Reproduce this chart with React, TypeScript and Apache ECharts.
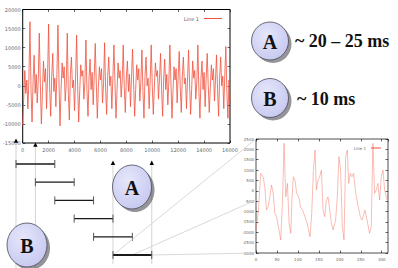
import React, { useEffect, useRef } from "react";
import * as echarts from "echarts";

// ---------- data ----------
const MAIN_SAMPLE_STEP = 80; // x spacing of samples (axis units)
const mainValues = [
  -10500, -3000, 4000, -2000, 1500, -6000, 2000, 16800,
  -1000, -9500, 1000, 8000, -2000, 3000, -4500, 1500, 13800,
  500, -10000, -2000, 6500, 1000, 4500, -6000, 2500, 16200,
  -500, -8000, 2500, 8500, -1500, 2000, -5500, 3000, 15900,
  1000, -10500, -1000, 6000, 2000, 5000, -4000, 500, 13800,
  -2000, -9000, 3000, 7500, -500, 1500, -6500, 2000, 13300,
  0, -9500, -1500, 5500, 2500, 4000, -3500, 1000, 12000,
  -1500, -8000, 2000, 7000, -1000, 3500, -5000, 2500, 11100,
  500, -8500, -500, 5000, 1500, 4500, -4500, 500, 11300,
  -1000, -7500, 2500, 7500, 0, 2500, -6000, 2000, 10700,
  1000, -8500, -1500, 6000, 2000, 4000, -3000, 1500, 10700,
  -500, -7000, 2000, 6500, -1500, 3000, -5500, 2500, 9600,
  500, -8000, -1000, 5500, 1500, 4500, -4000, 1000, 9400,
  -1500, -8500, 2500, 7500, 0, 2000, -6000, 1500, 10700,
  0, -7500, -500, 6000, 2500, 4000, -3500, 2000, 8500,
  -1000, -8000, 2000, 7000, -1000, 3000, -5000, 1000, 10700,
  1000, -8500, -1500, 5000, 1500, 4500, -4500, 2500, 9000,
  -500, -7000, 2500, 7500, 500, 2000, -6000, 1500, 9400,
  500, -7500, -1000, 6500, 2000, 4000, -3500, 1000, 10700,
  -1500, -8500, 2000, 6500, -1000, 3500, -5500, 2000, 8500,
  0, -7000, -500, 5500, 1500, 4500, -4000, 1500, 8100,
  -1000, -8000, 2000, 7500, 0, 2500, -6000, 3000, 10300,
  -2000, -8500, 1500, -4500,
];

const smallX = [
  0, 6, 11, 17, 21, 25, 29, 33, 37, 41, 45, 49, 55, 59, 63, 67, 71, 75, 79, 83,
  86, 89, 93, 97, 102, 106, 111, 117, 122, 129, 133, 137, 141, 144, 148, 152, 156, 160, 164, 168,
  172, 176, 180, 184, 190, 194, 198, 202, 206, 210, 214, 218, 221, 225, 229, 233, 238, 244, 249, 253,
  260, 265, 271, 275, 279, 283, 287, 291, 295, 299, 303, 307, 313,
];
const smallY = [
  -1890, -930, 840, 680, 200, -930, -770, -290, 280, -120, -1090, -1250, -1890, -2370, -610, 2290, -290, 360, -1570, -2050,
  -290, 680, 520, -120, -290, -770, -930, -1250, -1570, -2210, -1090, 1000, 1970, 40, 520, 680, 1000, -930, -1250, -450,
  -290, -930, -1570, -1890, -1410, -290, 1650, 1000, -1730, -2370, 1650, 1970, 360, 840, 680, 840, -120, -770, -1250, -1410,
  -930, -1410, -2050, -1730, 2290, -120, 40, 360, -450, 680, 1000, 40, -450,
];

// analysis windows on the main time axis: start, end, row
const windowStarts = [0, 1450, 2900, 4350, 5800, 7250];
const WINDOW_LENGTH = 2900;
// guide markers: x on main axis, row of the triangle, row where the guide ends
const guideX = [0, 1450, 7250, 10150];
const guideTopRow = [-1.26, -1.04, -0.05, -0.05];
const guideBottomRow = [5.8, 5.8, 5.5, 5.5];

const MAIN_Y = { min: -15000, max: 20000, interval: 5000 };
const MAIN_X = { min: 0, max: 16000, interval: 2000 };
const SMALL_Y = { min: -3000, max: 2500, interval: 500 };
const SMALL_X = { min: 0, max: 315, interval: 50 };

// ---------- layout ----------
const MAIN_GRID = { left: 16, top: 9.5, width: 214, height: 133.5 };
const SMALL_GRID = { left: 256, top: 139, width: 132, height: 114 };
const BRACKET_GRID = { left: 16, top: 164, width: 214, height: 91 };

const RED = "#f0503c";
const LABEL = {
  fontSize: 5,
  color: "#666",
  fontFamily: "DejaVu Sans",
  formatter: (v: number) => String(v),
};

function mirrorAxis(gridIndex: number, r: any, position: string) {
  return {
    type: "value",
    gridIndex,
    position,
    min: r.min,
    max: r.max,
    interval: r.interval,
    axisLine: { show: false, onZero: false },
    axisTick: { show: true, inside: true, length: 2.5, lineStyle: { color: "#000", width: 0.6 } },
    axisLabel: { show: false },
    splitLine: { show: false },
  };
}

function mainAxis(gridIndex: number, r: any, position: string, margin: number, fontSize = 5) {
  return {
    type: "value",
    gridIndex,
    position,
    min: r.min,
    max: r.max,
    interval: r.interval,
    axisLine: { show: false, onZero: false },
    axisTick: { show: true, inside: true, length: 2.5, lineStyle: { color: "#000", width: 0.6 } },
    axisLabel: { ...LABEL, fontSize, margin },
    splitLine: { show: false },
  };
}

function circle(cx: number, cy: number, rx: number, ry: number, letter: string) {
  return [
    {
      type: "ellipse",
      z: 100,
      shape: { cx: cx + 3, cy: cy + 3, rx, ry },
      style: { fill: "rgba(60,60,70,0.55)" },
    },
    {
      type: "ellipse",
      z: 101,
      shape: { cx, cy, rx, ry },
      style: {
        fill: new echarts.graphic.RadialGradient(0.4, 0.35, 0.7, [
          { offset: 0, color: "#e6e7fb" },
          { offset: 1, color: "#c6c8f0" },
        ]),
        stroke: "#4a4a55",
        lineWidth: 0.8,
      },
    },
    {
      type: "text",
      z: 102,
      x: cx,
      y: cy + 1,
      style: {
        text: letter,
        fill: "#111",
        font: "bold 20px 'Liberation Serif'",
        align: "center",
        verticalAlign: "middle",
      },
    },
  ];
}

export default function App() {
  const ref = useRef<HTMLDivElement>(null);
  useEffect(() => {
    if (!ref.current) return;
    const chart = echarts.init(ref.current, undefined, { renderer: "svg" });

    const mainData = mainValues.map((v, i) => [i * MAIN_SAMPLE_STEP, v]);
    const smallData = smallX.map((x, i) => [x, smallY[i]]);
    const windows = windowStarts.map((s, i) => [s, s + WINDOW_LENGTH, i]);
    const guides = guideX.map((x, i) => [x, guideTopRow[i], guideBottomRow[i]]);

    const option: any = {
      animation: false,
      backgroundColor: "#fff",
      legend: [
        {
          data: ["Line 1"],
          right: 398 - 227,
          top: 11,
          align: "right",
          itemWidth: 18,
          itemHeight: 1,
          icon: "rect",
          textStyle: { fontSize: 5, color: "#666", fontFamily: "DejaVu Sans" },
          itemGap: 2,
        },
        {
          data: ["Line 1"],
          right: 398 - 386,
          top: 141,
          align: "right",
          itemWidth: 10,
          itemHeight: 1,
          icon: "rect",
          textStyle: { fontSize: 4, color: "#666", fontFamily: "DejaVu Sans" },
        },
      ],
      grid: [
        { ...MAIN_GRID, show: true, borderColor: "#000", borderWidth: 1, containLabel: false },
        { ...SMALL_GRID, show: true, borderColor: "#222", borderWidth: 0.8, containLabel: false },
        { ...BRACKET_GRID, show: false, containLabel: false },
      ],
      xAxis: [
        mainAxis(0, MAIN_X, "bottom", 4),
        mirrorAxis(0, MAIN_X, "top"),
        mainAxis(1, SMALL_X, "bottom", 4, 4),
        mirrorAxis(1, SMALL_X, "top"),
        { type: "value", gridIndex: 2, min: MAIN_X.min, max: MAIN_X.max, show: false },
      ],
      yAxis: [
        mainAxis(0, MAIN_Y, "left", 2),
        mirrorAxis(0, MAIN_Y, "right"),
        mainAxis(1, SMALL_Y, "left", 2, 4),
        mirrorAxis(1, SMALL_Y, "right"),
        { type: "value", gridIndex: 2, min: 0, max: 5, inverse: true, show: false },
      ],
      series: [
        {
          name: "Line 1",
          type: "line",
          xAxisIndex: 0,
          yAxisIndex: 0,
          data: mainData,
          showSymbol: false,
          lineStyle: { color: RED, width: 0.8 },
          itemStyle: { color: RED },
          z: 3,
        },
        {
          name: "Line 1",
          type: "line",
          xAxisIndex: 2,
          yAxisIndex: 2,
          data: smallData,
          showSymbol: false,
          lineStyle: { color: "#f27a6a", width: 0.5 },
          itemStyle: { color: "#f27a6a" },
        },
        {
          type: "custom",
          xAxisIndex: 4,
          yAxisIndex: 4,
          clip: false,
          silent: true,
          z: 1,
          data: guides,
          renderItem: (_p: any, api: any) => {
            const x = api.value(0);
            const top = api.coord([x, api.value(1)]);
            const bot = api.coord([x, api.value(2)]);
            return {
              type: "group",
              children: [
                {
                  type: "line",
                  shape: { x1: top[0], y1: top[1], x2: bot[0], y2: bot[1] },
                  style: { stroke: "#c8c8c8", lineWidth: 0.8 },
                },
                {
                  type: "polygon",
                  z2: 5,
                  shape: {
                    points: [
                      [top[0], top[1] - 2.5],
                      [top[0] - 2.2, top[1] + 1.8],
                      [top[0] + 2.2, top[1] + 1.8],
                    ],
                  },
                  style: { fill: "#000" },
                },
              ],
            };
          },
        },
        {
          type: "custom",
          xAxisIndex: 4,
          yAxisIndex: 4,
          clip: false,
          silent: true,
          z: 2,
          data: windows,
          renderItem: (params: any, api: any) => {
            const p1 = api.coord([api.value(0), api.value(2)]);
            const p2 = api.coord([api.value(1), api.value(2)]);
            const last = params.dataIndex === windows.length - 1;
            const children: any[] = [];
            if (last) {
              const mid = [(p1[0] + p2[0]) / 2, p1[1]];
              const sl = SMALL_GRID.left;
              const zoomLines = [
                [p1, [sl, SMALL_GRID.top]],
                [mid, [sl, SMALL_GRID.top + SMALL_GRID.height / 2 + 4]],
                [p2, [sl, SMALL_GRID.top + SMALL_GRID.height]],
              ];
              zoomLines.forEach(([a, b]) =>
                children.push({
                  type: "line",
                  shape: { x1: a[0], y1: a[1], x2: b[0], y2: b[1] },
                  style: { stroke: "#cfcfcf", lineWidth: 0.8 },
                })
              );
            }
            children.push(
              {
                type: "line",
                shape: { x1: p1[0], y1: p1[1], x2: p2[0], y2: p2[1] },
                style: { stroke: "#1a1a1a", lineWidth: last ? 1.8 : 1.3 },
              },
              {
                type: "line",
                shape: { x1: p1[0], y1: p1[1] - 4, x2: p1[0], y2: p1[1] + 4 },
                style: { stroke: "#555", lineWidth: 1 },
              },
              {
                type: "line",
                shape: { x1: p2[0], y1: p2[1] - 4, x2: p2[0], y2: p2[1] + 4 },
                style: { stroke: "#555", lineWidth: 1 },
              }
            );
            return { type: "group", children };
          },
        },
      ],
      graphic: [
        ...circle(270, 41, 18.5, 19, "A"),
        {
          type: "text",
          z: 102,
          x: 295,
          y: 41,
          style: {
            text: "~ 20 – 25 ms",
            fill: "#111",
            font: "bold 18px 'Liberation Serif'",
            verticalAlign: "middle",
          },
        },
        ...circle(270, 98, 18.5, 19.5, "B"),
        {
          type: "text",
          z: 102,
          x: 297,
          y: 99,
          style: {
            text: "~ 10 ms",
            fill: "#111",
            font: "bold 18px 'Liberation Serif'",
            verticalAlign: "middle",
          },
        },
        ...circle(132, 187, 19.5, 22, "A"),
        ...circle(27, 245, 20, 22, "B"),
      ],
    };
    chart.setOption(option);
    return () => chart.dispose();
  }, []);
  return (
    <div
      ref={ref}
      style={{ position: "fixed", left: 0, top: 0, width: 398, height: 268, background: "#fff" }}
    />
  );
}
